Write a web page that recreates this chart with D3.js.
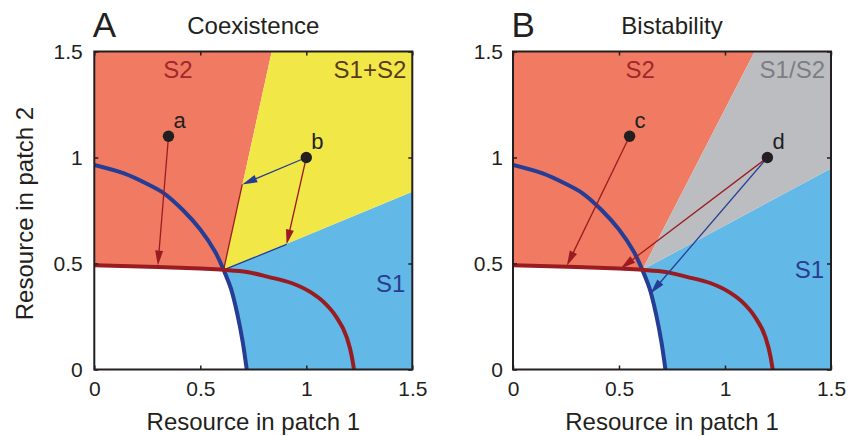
<!DOCTYPE html>
<html>
<head>
<meta charset="utf-8">
<script src="https://cdn.jsdelivr.net/npm/d3@7"></script>
<style>
  body { margin: 0; background: #fff; }
  text { font-family: "Liberation Sans", Arial, sans-serif; fill: #231f20; }
</style>
</head>
<body>
<svg id="chart" width="849" height="436"></svg>
<script>
// tick values on both axes
const axisTicks = [0, 0.5, 1, 1.5];
const panelLetters = ["A", "B"];
const panelTitles = ["Coexistence", "Bistability"];

// zero net growth isoclines: S1 (blue) and S2 (red)
const zngiS1 = [[0, 0.965], [0.14, 0.925], [0.25, 0.875], [0.33, 0.83], [0.42, 0.75], [0.50, 0.66],
                [0.57, 0.555], [0.61, 0.47], [0.645, 0.38], [0.675, 0.26], [0.70, 0.13], [0.719, 0]];
const zngiS2 = [[0, 0.492], [0.30, 0.484], [0.50, 0.476], [0.61, 0.47], [0.72, 0.46], [0.82, 0.437],
                [0.93, 0.408], [1.02, 0.365], [1.08, 0.32], [1.14, 0.25], [1.19, 0.154], [1.215, 0.06], [1.225, 0]];
const crossing = [0.61, 0.47];

// wedge edges: x where the upper edge hits 1.5, y where the lower edge hits 1.5
const upperEdgeX = [0.837, 1.14];
const lowerEdgeY = [0.838, 0.948];
const wedgeLabels = ["S1+S2", "S1/S2"];

// starting points and where their trajectories end
const startPoints = [
  [{ id: "a", x: 0.35, y: 1.1 }, { id: "b", x: 1.0, y: 1.0 }],
  [{ id: "c", x: 0.55, y: 1.1 }, { id: "d", x: 1.2, y: 1.0 }]
];
const arrowsA = [
  { from: "a", to: [0.30, 0.49], sp: 2 },
  { from: "b", to: [0.698, 0.873], sp: 1 },
  { from: "b", to: [0.907, 0.59], sp: 2 }
];
const arrowsB = [
  { from: "c", to: [0.254, 0.489], sp: 2 },
  { from: "d", to: [0.508, 0.476], sp: 2 },
  { from: "d", to: [0.649, 0.358], sp: 1 }
];
// in A the trajectories carry on along the wedge edges into the crossing
const tracesA = [
  { from: [0.698, 0.873], sp: 2 },
  { from: [0.907, 0.59], sp: 1 }
];

const red = "#9b1c20", blue = "#253d95";
const spColor = { 1: blue, 2: red };

const svg = d3.select("#chart");

function arrow(g, x0, y0, x1, y1, color) {
  const len = Math.hypot(x1 - x0, y1 - y0);
  const ux = (x1 - x0) / len, uy = (y1 - y0) / len;
  const head = 15, half = 4;
  const bx = x1 - ux * head, by = y1 - uy * head;
  g.append("line")
    .attr("x1", x0).attr("y1", y0).attr("x2", bx + ux * 2).attr("y2", by + uy * 2)
    .attr("stroke", color).attr("stroke-width", 1.3);
  g.append("path")
    .attr("d", `M${x1},${y1}L${bx - uy * half},${by + ux * half}L${bx + uy * half},${by - ux * half}Z`)
    .attr("fill", color);
}

function drawPanel(i, left) {
  const x = d3.scaleLinear().domain([0, 1.5]).range([left, left + 318]);
  const y = d3.scaleLinear().domain([0, 1.5]).range([369.5, 51.5]);
  const g = svg.append("g");

  const clipId = "clip" + i;
  g.append("clipPath").attr("id", clipId)
    .append("rect").attr("x", x(0)).attr("y", y(1.5)).attr("width", x(1.5) - x(0)).attr("height", y(0) - y(1.5));

  const lineS1 = d3.line().x(d => x(d[0])).y(d => y(d[1])).curve(d3.curveCatmullRom);
  const lineS2 = d3.line().x(d => x(d[0])).y(d => y(d[1])).curve(d3.curveMonotoneX);
  const plot = g.append("g").attr("clip-path", `url(#${clipId})`);

  // regions
  const s2Part = zngiS2.filter(d => d[0] <= crossing[0]);
  plot.append("path")
    .attr("d", lineS2(s2Part) + `L${x(upperEdgeX[i])},${y(1.5)}L${x(0)},${y(1.5)}Z`)
    .attr("fill", "#f07b62");
  const s1Part = zngiS1.filter(d => d[0] >= crossing[0]);
  plot.append("path")
    .attr("d", lineS1(s1Part) + `L${x(1.5)},${y(0)}L${x(1.5)},${y(lowerEdgeY[i])}Z`)
    .attr("fill", "#62b8e7");
  plot.append("path")
    .attr("d", `M${x(crossing[0])},${y(crossing[1])}L${x(upperEdgeX[i])},${y(1.5)}L${x(1.5)},${y(1.5)}L${x(1.5)},${y(lowerEdgeY[i])}Z`)
    .attr("fill", i === 0 ? "#f1e847" : "#bcbdc1");

  // trajectories along the edges
  if (i === 0) {
    tracesA.forEach(t => {
      plot.append("line")
        .attr("x1", x(t.from[0])).attr("y1", y(t.from[1]))
        .attr("x2", x(crossing[0])).attr("y2", y(crossing[1]))
        .attr("stroke", spColor[t.sp]).attr("stroke-width", 1.3);
    });
  }

  // isoclines
  plot.append("path").attr("d", lineS1(zngiS1)).attr("fill", "none").attr("stroke", blue).attr("stroke-width", 4);
  plot.append("path").attr("d", lineS2(zngiS2)).attr("fill", "none").attr("stroke", red).attr("stroke-width", 4);

  // arrows
  const pts = startPoints[i];
  (i === 0 ? arrowsA : arrowsB).forEach(a => {
    const p = pts.find(d => d.id === a.from);
    arrow(plot, x(p.x), y(p.y), x(a.to[0]), y(a.to[1]), spColor[a.sp]);
  });

  // start points
  pts.forEach(p => {
    plot.append("circle").attr("cx", x(p.x)).attr("cy", y(p.y)).attr("r", 5.7).attr("fill", "#231f20");
    g.append("text").attr("x", x(p.x) + 5).attr("y", y(p.y) - 8.5)
      .style("font-size", "22px").text(p.id);
  });

  // region labels
  g.append("text").attr("x", x(i === 0 ? 0.395 : 0.6)).attr("y", 77.5)
    .attr("text-anchor", "middle").style("font-size", "24px").style("fill", "#a0272b").text("S2");
  g.append("text").attr("x", x(1.5) - 6).attr("y", 77.5)
    .attr("text-anchor", "end").style("font-size", "24px")
    .style("fill", i === 0 ? "#5a3a1c" : "#7d7e82").text(wedgeLabels[i]);
  g.append("text").attr("x", x(1.5) - 7).attr("y", i === 0 ? 291.5 : 278)
    .attr("text-anchor", "end").style("font-size", "24px").style("fill", "#2a3c90").text("S1");

  // frame
  g.append("rect")
    .attr("x", x(0)).attr("y", y(1.5)).attr("width", x(1.5) - x(0)).attr("height", y(0) - y(1.5))
    .attr("fill", "none").attr("stroke", "#231f20").attr("stroke-width", 2);

  // axes with inward ticks
  const fmt = d => String(d);
  const styleAxis = sel => {
    sel.select(".domain").remove();
    sel.attr("color", "#231f20").attr("font-family", null).attr("font-size", null);
    sel.selectAll(".tick line").attr("stroke-width", 1.5);
    sel.selectAll(".tick text").style("font-size", "21px");
  };
  g.append("g").attr("transform", `translate(0,${y(0)})`)
    .call(d3.axisBottom(x).tickValues(axisTicks).tickSize(-4).tickPadding(12).tickFormat(fmt)).call(styleAxis);
  g.append("g").attr("transform", `translate(${x(0)},0)`)
    .call(d3.axisLeft(y).tickValues(axisTicks).tickSize(-4).tickPadding(i === 0 ? 11.5 : 10).tickFormat(fmt)).call(styleAxis);
  g.append("g").attr("transform", `translate(0,${y(1.5)})`)
    .call(d3.axisTop(x).tickValues(axisTicks).tickSize(-4).tickFormat(() => "")).call(styleAxis);
  g.append("g").attr("transform", `translate(${x(1.5)},0)`)
    .call(d3.axisRight(y).tickValues(axisTicks).tickSize(-4).tickFormat(() => "")).call(styleAxis);

  // titles
  g.append("text").attr("x", x(0) - 1.5).attr("y", 36.5).style("font-size", "35px").text(panelLetters[i]);
  g.append("text").attr("x", (x(0) + x(1.5)) / 2).attr("y", 33.5)
    .attr("text-anchor", "middle").style("font-size", "24px").text(panelTitles[i]);
  g.append("text").attr("x", (x(0) + x(1.5)) / 2).attr("y", 430)
    .attr("text-anchor", "middle").style("font-size", "24px").text("Resource in patch 1");
  if (i === 0) {
    g.append("text").attr("transform", `translate(33,${(y(0) + y(1.5)) / 2 + 3}) rotate(-90)`)
      .attr("text-anchor", "middle").style("font-size", "24px").text("Resource in patch 2");
  }
}

drawPanel(0, 94.3);
drawPanel(1, 513);
</script>
</body>
</html>
